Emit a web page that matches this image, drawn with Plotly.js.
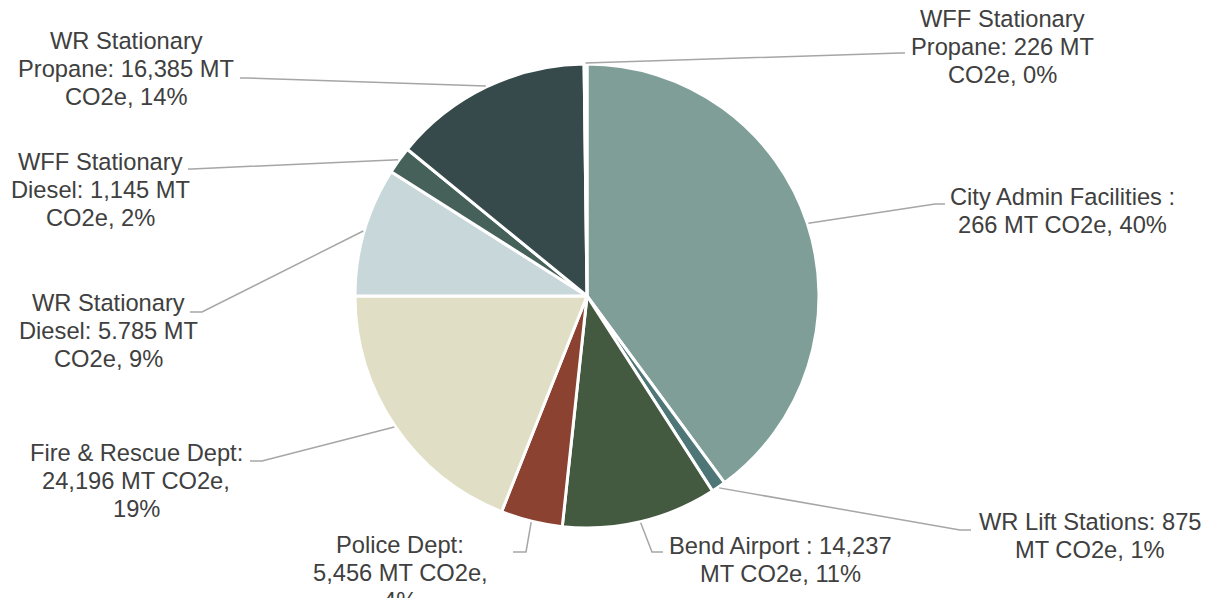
<!DOCTYPE html>
<html>
<head>
<meta charset="utf-8">
<script src="https://cdn.plot.ly/plotly-3.0.1.min.js"></script>
<style>
  html, body { margin: 0; padding: 0; background: #ffffff; }
  #chart { width: 1211px; height: 598px; }
</style>
</head>
<body>
<div id="chart"></div>
<script>
// ---- Data ----
const categories = [
  'City Admin Facilities',
  'WR Lift Stations',
  'Bend Airport',
  'Police Dept',
  'Fire & Rescue Dept',
  'WR Stationary Diesel',
  'WFF Stationary Diesel',
  'WR Stationary Propane',
  'WFF Stationary Propane'
];
const shares = [39.9, 1.0, 10.8, 4.3, 19.0, 9.0, 1.9, 13.9, 0.2];
const labelLines = [
  ['City Admin Facilities :', '266 MT CO2e, 40%'],
  ['WR Lift Stations: 875', 'MT CO2e, 1%'],
  ['Bend Airport : 14,237', 'MT CO2e, 11%'],
  ['Police Dept:', '5,456 MT CO2e,', '4%'],
  ['Fire & Rescue Dept:', '24,196 MT CO2e,', '19%'],
  ['WR Stationary', 'Diesel: 5.785 MT', 'CO2e, 9%'],
  ['WFF Stationary', 'Diesel: 1,145 MT', 'CO2e, 2%'],
  ['WR Stationary', 'Propane: 16,385 MT', 'CO2e, 14%'],
  ['WFF Stationary', 'Propane: 226 MT', 'CO2e, 0%']
];
const colors = ['#7f9e98', '#4e7676', '#435940', '#8c4231', '#e0dfc5', '#c8d8da', '#46615a', '#36494b', '#5d7a76'];

// ---- Layout constants (pixels) ----
const W = 1211, H = 598;
const CX = 587, CY = 296, R = 232;
const LINE_GAP = 27.8;
// label centre x, first-line centre y
const labelPos = [
  [1062, 197], [1090, 522], [780, 546], [400, 545], [136, 453],
  [108, 303], [100, 162], [126, 41], [1002, 19]
];
// leader elbow and end points
const leaderPts = [
  [935, 204, 945, 204],
  [960, 530, 971, 530],
  [652, 552, 663, 552],
  [526, 552, 513, 552],
  [262, 461, 250, 461],
  [202, 312, 190, 312],
  [192, 169, 188, 169],
  [245, 78, 240, 78],
  [900, 53, 905, 53]
];

const px = x => x / W;
const py = y => 1 - y / H;

const trace = {
  type: 'pie',
  labels: categories,
  values: shares,
  sort: false,
  direction: 'clockwise',
  rotation: 0,
  textinfo: 'none',
  hoverinfo: 'label+percent',
  marker: { colors: colors, line: { color: '#ffffff', width: 3 } },
  domain: { x: [px(CX - R), px(CX + R)], y: [py(CY + R), py(CY - R)] },
  showlegend: false
};

// leader lines anchored at slice mid-angles
const total = shares.reduce((a, b) => a + b, 0);
const shapes = [];
let cum = 0;
shares.forEach((v, i) => {
  const mid = (cum + v / 2) / total;
  cum += v;
  const th = 2 * Math.PI * mid;
  const ax = CX + (R + 1) * Math.sin(th);
  const ay = CY - (R + 1) * Math.cos(th);
  const [ex, ey, tx, ty] = leaderPts[i];
  shapes.push({
    type: 'path', xref: 'paper', yref: 'paper',
    path: `M ${px(ax)} ${py(ay)} L ${px(ex)} ${py(ey)} L ${px(tx)} ${py(ty)}`,
    line: { color: '#a6a6a6', width: 1.5 }
  });
});

const annotations = [];
labelLines.forEach((lines, i) => {
  const [lx, ly] = labelPos[i];
  lines.forEach((t, k) => {
    annotations.push({
      xref: 'paper', yref: 'paper',
      x: px(lx), y: py(ly + k * LINE_GAP),
      xanchor: 'center', yanchor: 'middle',
      text: t, showarrow: false,
      font: { family: 'Liberation Sans, Arial, sans-serif', size: 23.7, color: '#404040' }
    });
  });
});

const layout = {
  width: W, height: H,
  margin: { l: 0, r: 0, t: 0, b: 0 },
  paper_bgcolor: '#ffffff',
  plot_bgcolor: '#ffffff',
  shapes: shapes,
  annotations: annotations
};

Plotly.newPlot('chart', [trace], layout, { displayModeBar: false, staticPlot: true });
</script>
</body>
</html>
